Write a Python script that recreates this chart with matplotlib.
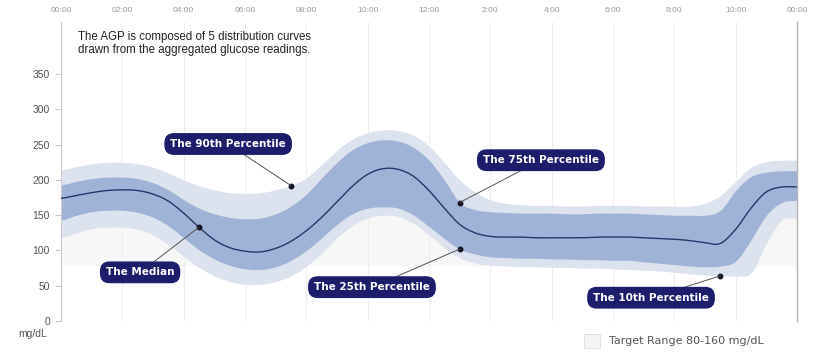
# agp_chart.py - ambulatory glucose profile with percentile bands

import numpy as np
import matplotlib
matplotlib.use("Agg")
import matplotlib.pyplot as plt
from matplotlib.patches import Rectangle

# half-hour steps across a day
hours = [h * 0.5 for h in range(49)]

p90 = [214, 219, 223, 225, 225, 223, 218, 210, 200, 192,
       186, 182, 181, 182, 186, 192, 203, 222, 242, 258,
       267, 271, 270, 263, 248, 225, 200, 183, 172, 167,
       165, 164, 164, 163, 163, 164, 164, 164, 163, 163,
       163, 163, 167, 178, 198, 218, 226, 228, 228]
p75 = [193, 198, 202, 204, 204, 202, 196, 186, 172, 160,
       152, 147, 145, 146, 152, 163, 180, 203, 225, 243,
       253, 257, 255, 246, 228, 200, 168, 158, 155, 154,
       153, 153, 153, 152, 152, 153, 153, 153, 152, 151,
       150, 150, 150, 157, 185, 205, 211, 213, 213]
median = [174, 178, 182, 185, 186, 185, 180, 170, 153, 133,
          115, 104, 99, 98, 103, 113, 128, 147, 169, 191,
          208, 216, 215, 205, 185, 160, 137, 125, 120, 119,
          119, 118, 118, 118, 118, 119, 119, 119, 118, 117,
          116, 114, 111, 110, 130, 160, 183, 190, 190]
p25 = [143, 150, 155, 157, 157, 154, 147, 135, 118, 101,
       88, 79, 74, 73, 77, 86, 100, 118, 137, 152,
       160, 162, 160, 150, 134, 117, 102, 95, 91, 90,
       89, 89, 88, 88, 87, 87, 86, 86, 84, 82,
       80, 78, 77, 78, 85, 115, 150, 168, 171]
p10 = [118, 125, 131, 133, 133, 130, 122, 108, 92, 76,
       64, 56, 52, 52, 56, 64, 78, 96, 118, 135,
       146, 150, 148, 138, 122, 104, 90, 82, 79, 78,
       77, 77, 76, 76, 75, 75, 74, 73, 72, 71,
       69, 67, 65, 64, 64, 68, 110, 143, 146]

time_ticks = list(range(0, 25, 2))
time_labels = ["00:00", "02:00", "04:00", "06:00", "08:00", "10:00", "12:00",
               "2:00", "4:00", "6:00", "8:00", "10:00", "00:00"]
glucose_ticks = [0, 50, 100, 150, 200, 250, 300, 350]
target_low, target_high = 80, 160

# callouts: (text, curve, index on curve, box position)
callouts = [
    ("The 90th Percentile", p90, 15, (5.45, 251)),
    ("The Median", median, 9, (2.58, 69)),
    ("The 75th Percentile", p75, 26, (15.65, 228)),
    ("The 25th Percentile", p25, 26, (10.14, 48)),
    ("The 10th Percentile", p10, 43, (19.24, 33)),
]

navy = "#1c1d6b"
plt.rcParams["font.family"] = ["Liberation Sans", "DejaVu Sans"]


def spline(xs, ys, steps=10):
    # Catmull-Rom curve through the readings so the line draws smooth
    x = np.asarray(xs, float)
    y = np.asarray(ys, float)
    yp = np.concatenate(([y[0]], y, [y[-1]]))
    out_x, out_y = [], []
    t = np.linspace(0, 1, steps, endpoint=False)
    for i in range(len(x) - 1):
        p0, p1, p2, p3 = yp[i], yp[i + 1], yp[i + 2], yp[i + 3]
        seg = 0.5 * (2 * p1 + (-p0 + p2) * t
                     + (2 * p0 - 5 * p1 + 4 * p2 - p3) * t ** 2
                     + (-p0 + 3 * p1 - 3 * p2 + p3) * t ** 3)
        out_x.extend(x[i] + (x[i + 1] - x[i]) * t)
        out_y.extend(seg)
    out_x.append(x[-1])
    out_y.append(y[-1])
    return np.array(out_x), np.array(out_y)


fig = plt.figure(figsize=(8.2, 3.53), dpi=100)
ax = fig.add_axes([61 / 820, 1 - 321 / 353, (797 - 61) / 820, (321 - 22) / 353])

sx, s90 = spline(hours, p90)
_, s75 = spline(hours, p75)
_, s50 = spline(hours, median)
_, s25 = spline(hours, p25)
_, s10 = spline(hours, p10)

ax.axhspan(target_low, target_high, color="#f7f7f7", zorder=0)
ax.fill_between(sx, s10, s90, color="#dce2ee", lw=0, zorder=1)
ax.fill_between(sx, s25, s75, color="#9fb3d7", lw=0, zorder=2)
ax.plot(sx, s50, color="#1f3a6a", lw=1.0, zorder=3)

for x in time_ticks:
    ax.axvline(x, color="#eeeeee", lw=0.8, zorder=0.5)

ax.set_xlim(0, 24)
ax.set_ylim(0, 424)
ax.set_xticks(time_ticks)
ax.set_xticklabels(time_labels)
ax.set_yticks(glucose_ticks)
ax.tick_params(axis="x", top=True, labeltop=True, bottom=False, labelbottom=False,
               length=0, pad=6, labelsize=6, labelcolor="#999999")
ax.tick_params(axis="y", length=4, width=0.6, color="#bbbbbb", pad=4,
               labelsize=7.5, labelcolor="#555555")

for side in ["top", "bottom"]:
    ax.spines[side].set_visible(False)
ax.spines["left"].set_color("#cccccc")
ax.spines["left"].set_linewidth(0.8)
ax.spines["right"].set_color("#b5b5b5")
ax.spines["right"].set_linewidth(1.0)

for text, curve, i, pos in callouts:
    ax.plot(hours[i], curve[i], "o", color="#111122", ms=3.2, zorder=5)
    ax.annotate(text, xy=(hours[i], curve[i]), xytext=pos,
                ha="center", va="center", fontsize=7.5, fontweight="bold",
                family="DejaVu Sans", color="white", zorder=6,
                bbox=dict(boxstyle="round,pad=0.5,rounding_size=0.85",
                          fc=navy, ec=navy),
                arrowprops=dict(arrowstyle="-", color="#555555", lw=0.7,
                                shrinkA=0, shrinkB=0))

fig.text(78 / 820, 1 - 31 / 353,
         "The AGP is composed of 5 distribution curves\n"
         "drawn from the aggregated glucose readings.",
         fontsize=8.3, color="#222222", va="top", ha="left", linespacing=1.15)

fig.text(33 / 820, 1 - 334 / 353, "mg/dL", fontsize=7.5, color="#555555",
         ha="center", va="center")

fig.patches.append(Rectangle((584 / 820, 1 - 348 / 353), 16 / 820, 14 / 353,
                             transform=fig.transFigure, fc="#f4f4f4",
                             ec="#dddddd", lw=0.6))
fig.text(609 / 820, 1 - 341 / 353, "Target Range %d-%d mg/dL" % (target_low, target_high),
         fontsize=8, family="DejaVu Sans", color="#555555", ha="left", va="center")

fig.savefig("out.png", dpi=100)
